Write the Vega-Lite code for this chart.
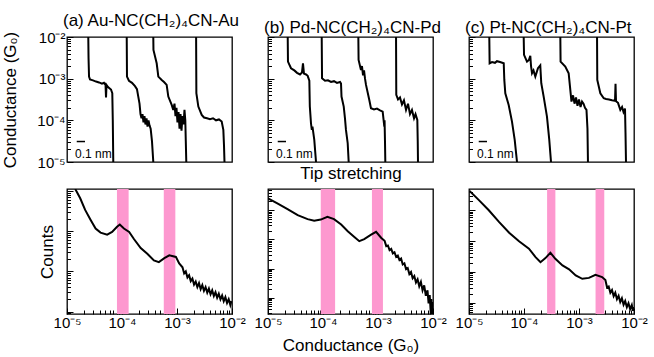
{
  "$schema": "https://vega.github.io/schema/vega-lite/v6.json",
  "padding": {"left": 1, "top": 11, "right": 5, "bottom": 0},
  "background": "white",
  "config": {
    "font": "Liberation Sans",
    "view": {"stroke": "black", "strokeWidth": 1.3},
    "axis": {"domain": false, "grid": false, "tickColor": "black", "tickWidth": 1, "labelFont": "Liberation Sans", "labelFontSize": 15, "labelColor": "black", "titleFont": "Liberation Sans", "titleFontSize": 17, "titleFontWeight": "normal", "titleColor": "black", "labelFlush": false, "labelOverlap": false, "labelBound": false},
    "title": {"font": "Liberation Sans", "fontSize": 17, "fontWeight": "normal", "anchor": "start", "frame": "group", "color": "black"}
  },
  "datasets": {
    "traces": [
      {"p":"a","t":1,"x":0.258,"G":0.01},{"p":"a","t":1,"x":0.261,"G":0.00316},{"p":"a","t":1,"x":0.267,"G":0.00112},{"p":"a","t":1,"x":0.279,"G":0.000955},{"p":"a","t":1,"x":0.315,"G":0.000912},{"p":"a","t":1,"x":0.352,"G":0.000851},{"p":"a","t":1,"x":0.388,"G":0.000813},{"p":"a","t":1,"x":0.424,"G":0.000759},{"p":"a","t":1,"x":0.448,"G":0.000794},{"p":"a","t":1,"x":0.467,"G":0.000708},{"p":"a","t":1,"x":0.473,"G":0.000355},{"p":"a","t":1,"x":0.479,"G":0.000708},{"p":"a","t":1,"x":0.497,"G":0.000631},{"p":"a","t":1,"x":0.533,"G":0.00055},{"p":"a","t":1,"x":0.549,"G":0.000447},{"p":"a","t":1,"x":0.555,"G":0.0001},{"p":"a","t":1,"x":0.561,"G":0.00001},
      {"p":"a","t":2,"x":0.724,"G":0.01},{"p":"a","t":2,"x":0.727,"G":0.00112},{"p":"a","t":2,"x":0.751,"G":0.000891},{"p":"a","t":2,"x":0.788,"G":0.000794},{"p":"a","t":2,"x":0.824,"G":0.000661},{"p":"a","t":2,"x":0.848,"G":0.000562},{"p":"a","t":2,"x":0.864,"G":0.000372},{"p":"a","t":2,"x":0.879,"G":0.000251},{"p":"a","t":2,"x":0.891,"G":0.000141},{"p":"a","t":2,"x":0.903,"G":0.000112},{"p":"a","t":2,"x":0.915,"G":0.000141},{"p":"a","t":2,"x":0.927,"G":0.0000891},{"p":"a","t":2,"x":0.939,"G":0.000126},{"p":"a","t":2,"x":0.951,"G":0.0000794},{"p":"a","t":2,"x":0.964,"G":0.000112},{"p":"a","t":2,"x":0.976,"G":0.0000708},{"p":"a","t":2,"x":0.988,"G":0.0001},{"p":"a","t":2,"x":1.0,"G":0.0000759},{"p":"a","t":2,"x":1.014,"G":0.0000631},{"p":"a","t":2,"x":1.03,"G":0.0000316},{"p":"a","t":2,"x":1.046,"G":0.00001},
      {"p":"a","t":3,"x":1.046,"G":0.01},{"p":"a","t":3,"x":1.048,"G":0.0049},{"p":"a","t":3,"x":1.087,"G":0.00234},{"p":"a","t":3,"x":1.107,"G":0.00112},{"p":"a","t":3,"x":1.148,"G":0.000933},{"p":"a","t":3,"x":1.176,"G":0.000832},{"p":"a","t":3,"x":1.208,"G":0.000708},{"p":"a","t":3,"x":1.228,"G":0.000372},{"p":"a","t":3,"x":1.269,"G":0.000234},{"p":"a","t":3,"x":1.288,"G":0.000178},{"p":"a","t":3,"x":1.303,"G":0.000251},{"p":"a","t":3,"x":1.315,"G":0.000126},{"p":"a","t":3,"x":1.327,"G":0.0002},{"p":"a","t":3,"x":1.339,"G":0.0000891},{"p":"a","t":3,"x":1.352,"G":0.000158},{"p":"a","t":3,"x":1.364,"G":0.0000631},{"p":"a","t":3,"x":1.376,"G":0.000141},{"p":"a","t":3,"x":1.388,"G":0.0000562},{"p":"a","t":3,"x":1.4,"G":0.000126},{"p":"a","t":3,"x":1.412,"G":0.0000794},{"p":"a","t":3,"x":1.424,"G":0.000178},{"p":"a","t":3,"x":1.434,"G":0.0001},{"p":"a","t":3,"x":1.44,"G":0.0000316},{"p":"a","t":3,"x":1.446,"G":0.00001},
      {"p":"a","t":4,"x":1.565,"G":0.01},{"p":"a","t":4,"x":1.568,"G":0.000447},{"p":"a","t":4,"x":1.592,"G":0.000214},{"p":"a","t":4,"x":1.633,"G":0.000135},{"p":"a","t":4,"x":1.661,"G":0.000117},{"p":"a","t":4,"x":1.697,"G":0.000112},{"p":"a","t":4,"x":1.733,"G":0.000107},{"p":"a","t":4,"x":1.77,"G":0.000112},{"p":"a","t":4,"x":1.806,"G":0.0001},{"p":"a","t":4,"x":1.842,"G":0.000105},{"p":"a","t":4,"x":1.875,"G":0.0000933},{"p":"a","t":4,"x":1.895,"G":0.0000589},{"p":"a","t":4,"x":1.903,"G":0.0000251},{"p":"a","t":4,"x":1.909,"G":0.00001},
      {"p":"b","t":1,"x":0.239,"G":0.01},{"p":"b","t":1,"x":0.242,"G":0.00257},{"p":"b","t":1,"x":0.279,"G":0.00178},{"p":"b","t":1,"x":0.319,"G":0.00158},{"p":"b","t":1,"x":0.352,"G":0.00138},{"p":"b","t":1,"x":0.388,"G":0.00126},{"p":"b","t":1,"x":0.412,"G":0.00141},{"p":"b","t":1,"x":0.424,"G":0.00234},{"p":"b","t":1,"x":0.436,"G":0.00132},{"p":"b","t":1,"x":0.461,"G":0.00126},{"p":"b","t":1,"x":0.481,"G":0.00117},{"p":"b","t":1,"x":0.501,"G":0.000891},{"p":"b","t":1,"x":0.507,"G":0.000214},{"p":"b","t":1,"x":0.521,"G":0.0000851},{"p":"b","t":1,"x":0.531,"G":0.0000589},{"p":"b","t":1,"x":0.539,"G":0.0000708},{"p":"b","t":1,"x":0.561,"G":0.0000339},{"p":"b","t":1,"x":0.582,"G":0.00001},
      {"p":"b","t":2,"x":0.651,"G":0.01},{"p":"b","t":2,"x":0.655,"G":0.00102},{"p":"b","t":2,"x":0.691,"G":0.000891},{"p":"b","t":2,"x":0.727,"G":0.000912},{"p":"b","t":2,"x":0.764,"G":0.000832},{"p":"b","t":2,"x":0.8,"G":0.000871},{"p":"b","t":2,"x":0.836,"G":0.000794},{"p":"b","t":2,"x":0.873,"G":0.000832},{"p":"b","t":2,"x":0.885,"G":0.000759},{"p":"b","t":2,"x":0.891,"G":0.000372},{"p":"b","t":2,"x":0.918,"G":0.000214},{"p":"b","t":2,"x":0.933,"G":0.000112},{"p":"b","t":2,"x":0.945,"G":0.0000589},{"p":"b","t":2,"x":0.966,"G":0.0000282},{"p":"b","t":2,"x":0.978,"G":0.00001},
      {"p":"b","t":3,"x":1.095,"G":0.01},{"p":"b","t":3,"x":1.098,"G":0.00282},{"p":"b","t":3,"x":1.127,"G":0.00162},{"p":"b","t":3,"x":1.139,"G":0.002},{"p":"b","t":3,"x":1.152,"G":0.0012},{"p":"b","t":3,"x":1.164,"G":0.00158},{"p":"b","t":3,"x":1.176,"G":0.001},{"p":"b","t":3,"x":1.188,"G":0.000708},{"p":"b","t":3,"x":1.228,"G":0.000309},{"p":"b","t":3,"x":1.248,"G":0.000195},{"p":"b","t":3,"x":1.285,"G":0.000182},{"p":"b","t":3,"x":1.321,"G":0.000191},{"p":"b","t":3,"x":1.358,"G":0.000174},{"p":"b","t":3,"x":1.39,"G":0.000162},{"p":"b","t":3,"x":1.41,"G":0.0000708},{"p":"b","t":3,"x":1.413,"G":0.0001},{"p":"b","t":3,"x":1.418,"G":0.0000316},{"p":"b","t":3,"x":1.422,"G":0.00001},
      {"p":"b","t":4,"x":1.552,"G":0.01},{"p":"b","t":4,"x":1.555,"G":0.000407},{"p":"b","t":4,"x":1.576,"G":0.000316},{"p":"b","t":4,"x":1.6,"G":0.000355},{"p":"b","t":4,"x":1.624,"G":0.00024},{"p":"b","t":4,"x":1.648,"G":0.000302},{"p":"b","t":4,"x":1.673,"G":0.000178},{"p":"b","t":4,"x":1.697,"G":0.000251},{"p":"b","t":4,"x":1.721,"G":0.000141},{"p":"b","t":4,"x":1.745,"G":0.000178},{"p":"b","t":4,"x":1.77,"G":0.000112},{"p":"b","t":4,"x":1.788,"G":0.000141},{"p":"b","t":4,"x":1.81,"G":0.000102},{"p":"b","t":4,"x":1.815,"G":0.0000316},{"p":"b","t":4,"x":1.818,"G":0.00001},
      {"p":"c","t":1,"x":0.246,"G":0.01},{"p":"c","t":1,"x":0.25,"G":0.00234},{"p":"c","t":1,"x":0.279,"G":0.00251},{"p":"c","t":1,"x":0.315,"G":0.0024},{"p":"c","t":1,"x":0.339,"G":0.00263},{"p":"c","t":1,"x":0.376,"G":0.00251},{"p":"c","t":1,"x":0.421,"G":0.00234},{"p":"c","t":1,"x":0.428,"G":0.000933},{"p":"c","t":1,"x":0.44,"G":0.000447},{"p":"c","t":1,"x":0.481,"G":0.000234},{"p":"c","t":1,"x":0.521,"G":0.0000933},{"p":"c","t":1,"x":0.554,"G":0.0000339},{"p":"c","t":1,"x":0.582,"G":0.00001},
      {"p":"c","t":2,"x":0.663,"G":0.01},{"p":"c","t":2,"x":0.667,"G":0.00372},{"p":"c","t":2,"x":0.703,"G":0.00257},{"p":"c","t":2,"x":0.727,"G":0.00282},{"p":"c","t":2,"x":0.743,"G":0.00355},{"p":"c","t":2,"x":0.752,"G":0.002},{"p":"c","t":2,"x":0.764,"G":0.00135},{"p":"c","t":2,"x":0.782,"G":0.00158},{"p":"c","t":2,"x":0.804,"G":0.00112},{"p":"c","t":2,"x":0.836,"G":0.00178},{"p":"c","t":2,"x":0.864,"G":0.00209},{"p":"c","t":2,"x":0.876,"G":0.000776},{"p":"c","t":2,"x":0.905,"G":0.000372},{"p":"c","t":2,"x":0.945,"G":0.000123},{"p":"c","t":2,"x":0.973,"G":0.0000339},{"p":"c","t":2,"x":0.994,"G":0.00001},
      {"p":"c","t":3,"x":1.107,"G":0.01},{"p":"c","t":3,"x":1.11,"G":0.00257},{"p":"c","t":3,"x":1.167,"G":0.00195},{"p":"c","t":3,"x":1.208,"G":0.00135},{"p":"c","t":3,"x":1.228,"G":0.000537},{"p":"c","t":3,"x":1.242,"G":0.000282},{"p":"c","t":3,"x":1.261,"G":0.000398},{"p":"c","t":3,"x":1.279,"G":0.000251},{"p":"c","t":3,"x":1.297,"G":0.000355},{"p":"c","t":3,"x":1.315,"G":0.000224},{"p":"c","t":3,"x":1.333,"G":0.000316},{"p":"c","t":3,"x":1.352,"G":0.000209},{"p":"c","t":3,"x":1.37,"G":0.000282},{"p":"c","t":3,"x":1.388,"G":0.000251},{"p":"c","t":3,"x":1.406,"G":0.0002},{"p":"c","t":3,"x":1.424,"G":0.000178},{"p":"c","t":3,"x":1.436,"G":0.0000631},{"p":"c","t":3,"x":1.442,"G":0.00001},
      {"p":"c","t":4,"x":1.552,"G":0.01},{"p":"c","t":4,"x":1.555,"G":0.000933},{"p":"c","t":4,"x":1.592,"G":0.000447},{"p":"c","t":4,"x":1.633,"G":0.000339},{"p":"c","t":4,"x":1.661,"G":0.000324},{"p":"c","t":4,"x":1.697,"G":0.000316},{"p":"c","t":4,"x":1.733,"G":0.000302},{"p":"c","t":4,"x":1.77,"G":0.000295},{"p":"c","t":4,"x":1.776,"G":0.000759},{"p":"c","t":4,"x":1.782,"G":0.000288},{"p":"c","t":4,"x":1.806,"G":0.000263},{"p":"c","t":4,"x":1.834,"G":0.000178},{"p":"c","t":4,"x":1.855,"G":0.000209},{"p":"c","t":4,"x":1.873,"G":0.000158},{"p":"c","t":4,"x":1.891,"G":0.000191},{"p":"c","t":4,"x":1.897,"G":0.0000501},{"p":"c","t":4,"x":1.903,"G":0.00001}
    ],
    "bar": [{"x": 0.118, "x2": 0.218, "G": 0.000031}],
    "barlabel": [{"x": 0.097, "G": 0.0000125, "label": "0.1 nm"}],
    "hist": [
      {"p":"a","G":0.00001413,"c":11220},{"p":"a","G":0.00001738,"c":6607},{"p":"a","G":0.00002138,"c":3388},{"p":"a","G":0.00002692,"c":1905},{"p":"a","G":0.00003311,"c":1161},{"p":"a","G":0.00004074,"c":923},{"p":"a","G":0.0000537,"c":822},{"p":"a","G":0.00006607,"c":955},{"p":"a","G":0.00008128,"c":1288},{"p":"a","G":0.0000912,"c":1462},{"p":"a","G":0.0001084,"c":1161},{"p":"a","G":0.0001349,"c":955},{"p":"a","G":0.000166,"c":631},{"p":"a","G":0.0002188,"c":380},{"p":"a","G":0.0002884,"c":275},{"p":"a","G":0.0003802,"c":188},{"p":"a","G":0.0004677,"c":170},{"p":"a","G":0.0005888,"c":214},{"p":"a","G":0.0007244,"c":251},{"p":"a","G":0.000955,"c":229},{"p":"a","G":0.001096,"c":158},
      {"p":"a","G":0.001259,"c":126},{"p":"a","G":0.001349,"c":89.1},{"p":"a","G":0.001445,"c":100},{"p":"a","G":0.001549,"c":70.8},{"p":"a","G":0.00166,"c":80.4},{"p":"a","G":0.001778,"c":57.5},{"p":"a","G":0.001905,"c":66.1},{"p":"a","G":0.002042,"c":46.8},{"p":"a","G":0.002188,"c":55.6},{"p":"a","G":0.002344,"c":40.7},{"p":"a","G":0.002512,"c":51.3},{"p":"a","G":0.002692,"c":36.3},{"p":"a","G":0.002884,"c":45.7},{"p":"a","G":0.00309,"c":32.7},{"p":"a","G":0.003311,"c":40.7},{"p":"a","G":0.003548,"c":29.5},{"p":"a","G":0.003802,"c":37.2},{"p":"a","G":0.004074,"c":26.9},{"p":"a","G":0.004365,"c":33.9},{"p":"a","G":0.004677,"c":24.5},{"p":"a","G":0.005012,"c":30.5},{"p":"a","G":0.00537,"c":22.1},{"p":"a","G":0.005754,"c":27.9},{"p":"a","G":0.006166,"c":20.2},{"p":"a","G":0.006607,"c":25.1},{"p":"a","G":0.007079,"c":18.2},{"p":"a","G":0.007586,"c":22.9},{"p":"a","G":0.008128,"c":16.4},{"p":"a","G":0.00871,"c":20.4},{"p":"a","G":0.009333,"c":14.6},{"p":"a","G":0.009772,"c":18.2},
      {"p":"b","G":0.00001,"c":25700},{"p":"b","G":0.00001479,"c":17180},{"p":"b","G":0.00002265,"c":10965},{"p":"b","G":0.00003467,"c":6761},{"p":"b","G":0.00005248,"c":4955},{"p":"b","G":0.00006918,"c":4365},{"p":"b","G":0.0000912,"c":4786},{"p":"b","G":0.0001202,"c":5957},{"p":"b","G":0.0001585,"c":4955},{"p":"b","G":0.0002138,"c":3236},{"p":"b","G":0.0002818,"c":1905},{"p":"b","G":0.0003715,"c":1216},{"p":"b","G":0.0004571,"c":871},{"p":"b","G":0.0005623,"c":1023},{"p":"b","G":0.0007499,"c":1462},{"p":"b","G":0.0009226,"c":1820},{"p":"b","G":0.001148,"c":1122},
      {"p":"b","G":0.001318,"c":891},{"p":"b","G":0.001413,"c":589},{"p":"b","G":0.001514,"c":617},{"p":"b","G":0.001622,"c":427},{"p":"b","G":0.001738,"c":473},{"p":"b","G":0.001862,"c":331},{"p":"b","G":0.001995,"c":363},{"p":"b","G":0.002138,"c":251},{"p":"b","G":0.002291,"c":279},{"p":"b","G":0.002455,"c":195},{"p":"b","G":0.00263,"c":219},{"p":"b","G":0.002818,"c":138},{"p":"b","G":0.00302,"c":151},{"p":"b","G":0.003236,"c":95.5},{"p":"b","G":0.003467,"c":103.5},{"p":"b","G":0.003715,"c":64.6},{"p":"b","G":0.003981,"c":75.9},{"p":"b","G":0.004266,"c":46.2},{"p":"b","G":0.004571,"c":55},{"p":"b","G":0.004898,"c":33.1},{"p":"b","G":0.005248,"c":42.7},{"p":"b","G":0.005623,"c":24.5},{"p":"b","G":0.006026,"c":34.7},{"p":"b","G":0.006457,"c":17.8},{"p":"b","G":0.006918,"c":26.3},{"p":"b","G":0.007413,"c":11.6},{"p":"b","G":0.007943,"c":17.8},{"p":"b","G":0.008318,"c":6.31},{"p":"b","G":0.00871,"c":12.3},{"p":"b","G":0.00912,"c":2.8},{"p":"b","G":0.009333,"c":8.91},{"p":"b","G":0.00955,"c":2.75},{"p":"b","G":0.009772,"c":7.08},{"p":"b","G":0.009886,"c":2.75},
      {"p":"c","G":0.00001023,"c":42170},{"p":"c","G":0.00001514,"c":21380},{"p":"c","G":0.00002291,"c":10000},{"p":"c","G":0.00003508,"c":4217},{"p":"c","G":0.0000537,"c":1884},{"p":"c","G":0.00008128,"c":989},{"p":"c","G":0.000123,"c":569},{"p":"c","G":0.0001622,"c":305},{"p":"c","G":0.0001995,"c":209},{"p":"c","G":0.0002455,"c":282},{"p":"c","G":0.000302,"c":422},{"p":"c","G":0.0003715,"c":269},{"p":"c","G":0.0005012,"c":164},{"p":"c","G":0.0006607,"c":122},{"p":"c","G":0.000871,"c":77.6},{"p":"c","G":0.001148,"c":60.3},{"p":"c","G":0.001514,"c":64.6},{"p":"c","G":0.001995,"c":81.3},{"p":"c","G":0.00263,"c":68.4},
      {"p":"c","G":0.00302,"c":55},{"p":"c","G":0.003236,"c":31.6},{"p":"c","G":0.003467,"c":33.9},{"p":"c","G":0.003715,"c":21.4},{"p":"c","G":0.003981,"c":26.3},{"p":"c","G":0.004266,"c":16.6},{"p":"c","G":0.004571,"c":21.4},{"p":"c","G":0.004898,"c":13.2},{"p":"c","G":0.005248,"c":17},{"p":"c","G":0.005623,"c":10.7},{"p":"c","G":0.006026,"c":14.1},{"p":"c","G":0.006457,"c":8.71},{"p":"c","G":0.006918,"c":11.5},{"p":"c","G":0.007413,"c":7.24},{"p":"c","G":0.007943,"c":9.77},{"p":"c","G":0.008511,"c":6.31},{"p":"c","G":0.00912,"c":8.51},{"p":"c","G":0.00955,"c":5.56},{"p":"c","G":0.009886,"c":7.41}
    ],
    "bands": [
      {"p":"a","G":0.000081,"G2":0.000132},{"p":"a","G":0.000575,"G2":0.000933},
      {"p":"b","G":0.000091,"G2":0.000166},{"p":"b","G":0.000776,"G2":0.00123},
      {"p":"c","G":0.000263,"G2":0.000372},{"p":"c","G":0.002,"G2":0.00288}
    ]
  },
  "columns": 3,
  "spacing": {"row": 27, "column": 36},
  "bounds": "flush",
  "concat": [
    {
      "width": 165, "height": 125,
      "title": {"text": "(a) Au-NC(CH₂)₄CN-Au", "offset": 0, "dx": -4},
      "encoding": {
        "x": {"field": "x", "type": "quantitative", "scale": {"domain": [0, 2], "nice": false, "zero": false}, "axis": null},
        "y": {"field": "G", "type": "quantitative", "scale": {"type": "log", "domain": [0.00001, 0.01], "nice": false},
          "axis": {"title": "Conductance (G₀)", "titlePadding": 17, "labelPadding": 8,
            "values": [0.00001,0.00002,0.00003,0.00004,0.00005,0.00006,0.00007,0.00008,0.00009,0.0001,0.0002,0.0003,0.0004,0.0005,0.0006,0.0007,0.0008,0.0009,0.001,0.002,0.003,0.004,0.005,0.006,0.007,0.008,0.009,0.01],
            "labelExpr": "datum.value == 0.01 ? '10⁻²' : datum.value == 0.001 ? '10⁻³' : datum.value == 0.0001 ? '10⁻⁴' : datum.value == 0.00001 ? '10⁻⁵' : ''",
            "tickSize": {"condition": {"test": "datum.value == 0.00001 || datum.value == 0.0001 || datum.value == 0.001 || datum.value == 0.01", "value": -6}, "value": -3.5}}}
      },
      "layer": [
        {"data": {"name": "traces"}, "transform": [{"filter": "datum.p == 'a'"}], "mark": {"type": "line", "color": "black", "strokeWidth": 2, "clip": true}, "encoding": {"detail": {"field": "t", "type": "nominal"}}},
        {"data": {"name": "bar"}, "mark": {"type": "rule", "color": "black", "strokeWidth": 1.5}, "encoding": {"x2": {"field": "x2"}}},
        {"data": {"name": "barlabel"}, "mark": {"type": "text", "align": "left", "baseline": "alphabetic", "fontSize": 12, "font": "Liberation Sans", "color": "black"}, "encoding": {"text": {"field": "label"}}}
      ]
    },
    {
      "width": 165, "height": 125,
      "title": {"text": "(b) Pd-NC(CH₂)₄CN-Pd", "offset": 0, "dx": -4},
      "encoding": {
        "x": {"field": "x", "type": "quantitative", "scale": {"domain": [0, 2], "nice": false, "zero": false}, "axis": {"title": "Tip stretching", "labels": false, "ticks": false, "titlePadding": 3}},
        "y": {"field": "G", "type": "quantitative", "scale": {"type": "log", "domain": [0.00001, 0.01], "nice": false},
          "axis": {"title": null, "labels": false,
            "values": [0.00001,0.00002,0.00003,0.00004,0.00005,0.00006,0.00007,0.00008,0.00009,0.0001,0.0002,0.0003,0.0004,0.0005,0.0006,0.0007,0.0008,0.0009,0.001,0.002,0.003,0.004,0.005,0.006,0.007,0.008,0.009,0.01],
            "tickSize": {"condition": {"test": "datum.value == 0.00001 || datum.value == 0.0001 || datum.value == 0.001 || datum.value == 0.01", "value": -6}, "value": -3.5}}}
      },
      "layer": [
        {"data": {"name": "traces"}, "transform": [{"filter": "datum.p == 'b'"}], "mark": {"type": "line", "color": "black", "strokeWidth": 2, "clip": true}, "encoding": {"detail": {"field": "t", "type": "nominal"}}},
        {"data": {"name": "bar"}, "mark": {"type": "rule", "color": "black", "strokeWidth": 1.5}, "encoding": {"x2": {"field": "x2"}}},
        {"data": {"name": "barlabel"}, "mark": {"type": "text", "align": "left", "baseline": "alphabetic", "fontSize": 12, "font": "Liberation Sans", "color": "black"}, "encoding": {"text": {"field": "label"}}}
      ]
    },
    {
      "width": 165, "height": 125,
      "title": {"text": "(c) Pt-NC(CH₂)₄CN-Pt", "offset": 0, "dx": -4},
      "encoding": {
        "x": {"field": "x", "type": "quantitative", "scale": {"domain": [0, 2], "nice": false, "zero": false}, "axis": null},
        "y": {"field": "G", "type": "quantitative", "scale": {"type": "log", "domain": [0.00001, 0.01], "nice": false},
          "axis": {"title": null, "labels": false,
            "values": [0.00001,0.00002,0.00003,0.00004,0.00005,0.00006,0.00007,0.00008,0.00009,0.0001,0.0002,0.0003,0.0004,0.0005,0.0006,0.0007,0.0008,0.0009,0.001,0.002,0.003,0.004,0.005,0.006,0.007,0.008,0.009,0.01],
            "tickSize": {"condition": {"test": "datum.value == 0.00001 || datum.value == 0.0001 || datum.value == 0.001 || datum.value == 0.01", "value": -6}, "value": -3.5}}}
      },
      "layer": [
        {"data": {"name": "traces"}, "transform": [{"filter": "datum.p == 'c'"}], "mark": {"type": "line", "color": "black", "strokeWidth": 2, "clip": true}, "encoding": {"detail": {"field": "t", "type": "nominal"}}},
        {"data": {"name": "bar"}, "mark": {"type": "rule", "color": "black", "strokeWidth": 1.5}, "encoding": {"x2": {"field": "x2"}}},
        {"data": {"name": "barlabel"}, "mark": {"type": "text", "align": "left", "baseline": "alphabetic", "fontSize": 12, "font": "Liberation Sans", "color": "black"}, "encoding": {"text": {"field": "label"}}}
      ]
    },
    {
      "width": 165, "height": 125,
      "encoding": {
        "x": {"field": "G", "type": "quantitative", "scale": {"type": "log", "domain": [0.00001, 0.01], "nice": false},
          "axis": {"title": null, "labelPadding": 7,
            "values": [0.00001,0.00002,0.00003,0.00004,0.00005,0.00006,0.00007,0.00008,0.00009,0.0001,0.0002,0.0003,0.0004,0.0005,0.0006,0.0007,0.0008,0.0009,0.001,0.002,0.003,0.004,0.005,0.006,0.007,0.008,0.009,0.01],
            "labelExpr": "datum.value == 0.01 ? '10⁻²' : datum.value == 0.001 ? '10⁻³' : datum.value == 0.0001 ? '10⁻⁴' : datum.value == 0.00001 ? '10⁻⁵' : ''",
            "tickSize": {"condition": {"test": "datum.value == 0.00001 || datum.value == 0.0001 || datum.value == 0.001 || datum.value == 0.01", "value": -6}, "value": -4}}}
      },
      "layer": [
        {"data": {"name": "bands"}, "transform": [{"filter": "datum.p == 'a'"}], "mark": {"type": "rect", "color": "#fd98cf"}, "encoding": {"x2": {"field": "G2"}}},
        {"data": {"name": "hist"}, "transform": [{"filter": "datum.p == 'a'"}], "mark": {"type": "line", "color": "black", "strokeWidth": 2, "clip": true},
          "encoding": {"y": {"field": "c", "type": "quantitative", "scale": {"type": "log", "domain": [8.7, 11220], "nice": false},
            "axis": {"title": "Counts", "titlePadding": 10, "labels": false,
              "values": [9,10,20,30,40,50,60,70,80,90,100,200,300,400,500,600,700,800,900,1000,2000,3000,4000,5000,6000,7000,8000,9000,10000],
              "tickSize": {"condition": {"test": "datum.value == 10 || datum.value == 100 || datum.value == 1000 || datum.value == 10000", "value": -6}, "value": -3.5}}}}}
      ]
    },
    {
      "width": 165, "height": 125,
      "encoding": {
        "x": {"field": "G", "type": "quantitative", "scale": {"type": "log", "domain": [0.00001, 0.01], "nice": false},
          "axis": {"title": "Conductance (G₀)", "titlePadding": 5, "labelPadding": 7,
            "values": [0.00001,0.00002,0.00003,0.00004,0.00005,0.00006,0.00007,0.00008,0.00009,0.0001,0.0002,0.0003,0.0004,0.0005,0.0006,0.0007,0.0008,0.0009,0.001,0.002,0.003,0.004,0.005,0.006,0.007,0.008,0.009,0.01],
            "labelExpr": "datum.value == 0.01 ? '10⁻²' : datum.value == 0.001 ? '10⁻³' : datum.value == 0.0001 ? '10⁻⁴' : datum.value == 0.00001 ? '10⁻⁵' : ''",
            "tickSize": {"condition": {"test": "datum.value == 0.00001 || datum.value == 0.0001 || datum.value == 0.001 || datum.value == 0.01", "value": -6}, "value": -4}}}
      },
      "layer": [
        {"data": {"name": "bands"}, "transform": [{"filter": "datum.p == 'b'"}], "mark": {"type": "rect", "color": "#fd98cf"}, "encoding": {"x2": {"field": "G2"}}},
        {"data": {"name": "hist"}, "transform": [{"filter": "datum.p == 'b'"}], "mark": {"type": "line", "color": "black", "strokeWidth": 2, "clip": true},
          "encoding": {"y": {"field": "c", "type": "quantitative", "scale": {"type": "log", "domain": [2.75, 53700], "nice": false},
            "axis": {"title": null, "labels": false,
              "values": [3,4,5,6,7,8,9,10,20,30,40,50,60,70,80,90,100,200,300,400,500,600,700,800,900,1000,2000,3000,4000,5000,6000,7000,8000,9000,10000,20000,30000,40000,50000],
              "tickSize": {"condition": {"test": "datum.value == 10 || datum.value == 100 || datum.value == 1000 || datum.value == 10000", "value": -6}, "value": -3.5}}}}}
      ]
    },
    {
      "width": 165, "height": 125,
      "encoding": {
        "x": {"field": "G", "type": "quantitative", "scale": {"type": "log", "domain": [0.00001, 0.01], "nice": false},
          "axis": {"title": null, "labelPadding": 7,
            "values": [0.00001,0.00002,0.00003,0.00004,0.00005,0.00006,0.00007,0.00008,0.00009,0.0001,0.0002,0.0003,0.0004,0.0005,0.0006,0.0007,0.0008,0.0009,0.001,0.002,0.003,0.004,0.005,0.006,0.007,0.008,0.009,0.01],
            "labelExpr": "datum.value == 0.01 ? '10⁻²' : datum.value == 0.001 ? '10⁻³' : datum.value == 0.0001 ? '10⁻⁴' : datum.value == 0.00001 ? '10⁻⁵' : ''",
            "tickSize": {"condition": {"test": "datum.value == 0.00001 || datum.value == 0.0001 || datum.value == 0.001 || datum.value == 0.01", "value": -6}, "value": -4}}}
      },
      "layer": [
        {"data": {"name": "bands"}, "transform": [{"filter": "datum.p == 'c'"}], "mark": {"type": "rect", "color": "#fd98cf"}, "encoding": {"x2": {"field": "G2"}}},
        {"data": {"name": "hist"}, "transform": [{"filter": "datum.p == 'c'"}], "mark": {"type": "line", "color": "black", "strokeWidth": 2, "clip": true},
          "encoding": {"y": {"field": "c", "type": "quantitative", "scale": {"type": "log", "domain": [4.37, 48980], "nice": false},
            "axis": {"title": null, "labels": false,
              "values": [5,6,7,8,9,10,20,30,40,50,60,70,80,90,100,200,300,400,500,600,700,800,900,1000,2000,3000,4000,5000,6000,7000,8000,9000,10000,20000,30000,40000],
              "tickSize": {"condition": {"test": "datum.value == 10 || datum.value == 100 || datum.value == 1000 || datum.value == 10000", "value": -6}, "value": -3.5}}}}}
      ]
    }
  ]
}
